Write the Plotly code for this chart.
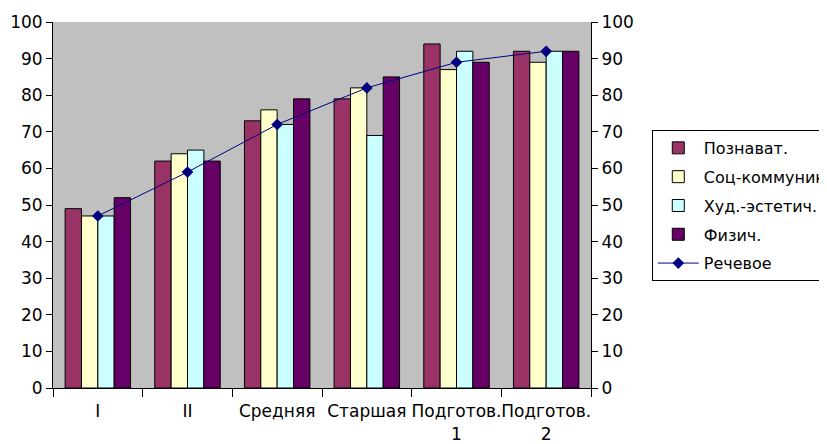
import plotly.graph_objects as go

categories = ["I", "II", "Средняя", "Старшая", "Подготов.<br>1", "Подготов.<br>2"]
poznavat = [49, 62, 73, 79, 94, 92]
soc_komm = [47, 64, 76, 82, 87, 89]
hud_est = [47, 65, 72, 69, 92, 92]
fizich = [52, 62, 79, 85, 89, 92]
rechevoe = [47, 59, 72, 82, 89, 92]

series_names = ["Познават.", "Соц-коммуникат.", "Худ.-эстетич.", "Физич."]
series_vals = [poznavat, soc_komm, hud_est, fizich]
series_colors = ["#993366", "#FFFFCC", "#CCFFFF", "#660066"]

FONT = "DejaVu Sans, Liberation Sans, Arial, sans-serif"

fig = go.Figure()
for i, (n, v, c) in enumerate(zip(series_names, series_vals, series_colors)):
    fig.add_trace(go.Bar(
        x=categories, y=v, name=n, legendgroup=f"g{i}",
        marker=dict(color=c, line=dict(color="black", width=1)),
    ))
fig.add_trace(go.Scatter(
    x=categories, y=rechevoe, name="Речевое", legendgroup="g5",
    mode="lines+markers", yaxis="y2",
    line=dict(color="#000080", width=1),
    marker=dict(symbol="diamond", size=9, color="#000080"),
))

axis_font = dict(family=FONT, size=17, color="black")
fig.update_layout(
    width=819, height=436,
    margin=dict(l=45, r=236, t=14, b=56, autoexpand=False),
    paper_bgcolor="white",
    plot_bgcolor="#C0C0C0",
    barmode="group",
    bargap=0.27,
    bargroupgap=0,
    showlegend=True,
    legend=dict(
        x=1.113, y=0.705, xanchor="left", yanchor="top",
        bgcolor="white", bordercolor="black", borderwidth=1,
        font=dict(family=FONT, size=16, color="black"),
        traceorder="grouped", tracegroupgap=5, itemwidth=41,
    ),
    xaxis=dict(
        type="category", tickson="boundaries", automargin=False, tickangle=0,
        ticks="outside", ticklen=8, tickcolor="black", ticklabelstandoff=8,
        showline=True, linecolor="black", linewidth=1,
        showgrid=False, tickfont=axis_font,
    ),
    yaxis=dict(
        range=[0, 100], dtick=10, showgrid=False, automargin=False,
        ticks="outside", ticklen=6, tickcolor="black",
        showline=True, linecolor="black", linewidth=1,
        tickfont=axis_font, zeroline=False,
    ),
    yaxis2=dict(
        range=[0, 100], dtick=10, showgrid=False, overlaying="y", side="right",
        automargin=False,
        ticks="outside", ticklen=6, tickcolor="black",
        showline=True, linecolor="black", linewidth=1,
        tickfont=axis_font, zeroline=False,
    ),
)
fig.write_html("out.html")
